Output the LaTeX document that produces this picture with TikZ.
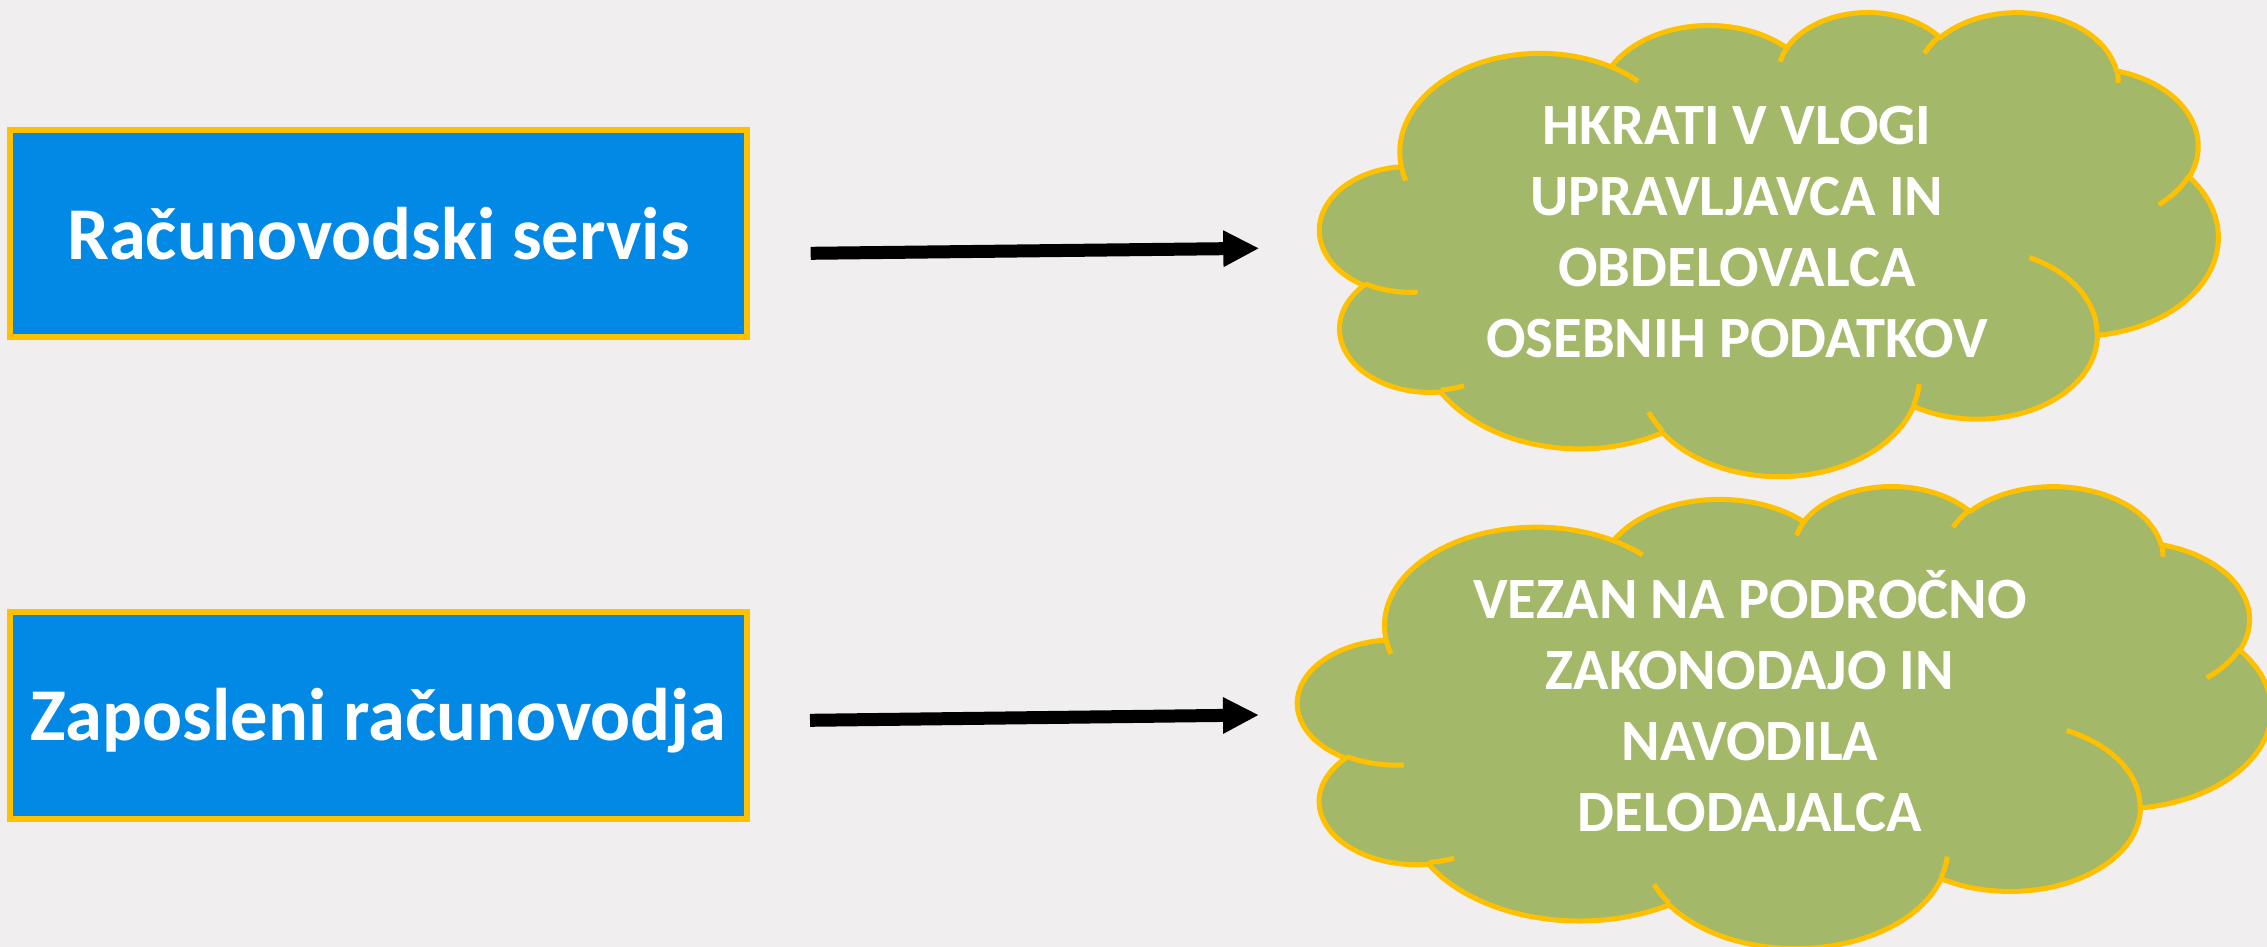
\documentclass[tikz,border=0pt]{standalone}
\usepackage{fontspec}
\setmainfont{Carlito}
\usetikzlibrary{arrows.meta}
\definecolor{bg}{RGB}{240,238,239}
\definecolor{boxblue}{RGB}{2,137,230}
\definecolor{gold}{RGB}{255,192,0}
\definecolor{cloudgreen}{RGB}{164,184,106}
% elliptical arc with OOXML (visual) angles
\newcommand\ooarc[4]{arc[x radius=#1pt, y radius=#2pt, start angle={atan2(#1*sin(#3),#2*cos(#3))}, delta angle={mod(atan2(#1*sin(#3+#4),#2*cos(#3+#4))-atan2(#1*sin(#3),#2*cos(#3))+720,360)}]}
\newcommand\cloudmain{(39,143.7) \ooarc{67.53}{91.90}{-190.4875}{123.7805} \ooarc{53.33}{72.67}{-144.1024}{89.9452} \ooarc{43.65}{59.45}{-145.8079}{99.7230} \ooarc{48.57}{65.95}{-130.9861}{117.2417} \ooarc{53.33}{72.73}{-78.7089}{109.0269} \ooarc{67.75}{92.20}{-46.2673}{130.2690} \ooarc{57.85}{78.67}{0.6250}{114.0333} \ooarc{67.52}{92.15}{22.4516}{115.1726} \ooarc{77.20}{105.43}{66.2426}{75.7110} \ooarc{43.60}{59.18}{-274.9421}{146.7356} \ooarc{43.45}{59.45}{-246.8285}{152.5189} -- cycle}
\newcommand\cloudinner{(46.93,261.77) \ooarc{43.45}{59.45}{86.742}{26.4295} (69.28,348.99) \ooarc{43.60}{59.18}{73.6105}{11.4475} (164.78,390.90) \ooarc{67.52}{92.15}{137.6242}{14.0811} (288.27,347.51) \ooarc{67.52}{92.15}{6.4533}{15.9984} (341.29,229.54) \ooarc{57.85}{78.67}{-70.2924}{70.9174} (417.98,153.54) \ooarc{53.33}{72.73}{30.3180}{27.7515} (383.24,54.26) \ooarc{48.57}{65.95}{-13.7443}{14.8589} (290.78,39.52) \ooarc{48.57}{65.95}{-149.1815}{18.1954} (221.41,47.20) \ooarc{43.65}{59.45}{-163.4943}{17.6864} (140.00,51.92) \ooarc{67.53}{91.90}{-66.7070}{12.3194} (41.27,157.89) \ooarc{67.53}{91.90}{157.6544}{11.8582}}
\begin{document}
\begin{tikzpicture}[x=1pt,y=1pt,yscale=-1,
  boxstyle/.style={draw=gold, line width=6pt, fill=boxblue, text=white, font=\bfseries\fontsize{74.5}{89}\selectfont, inner sep=0pt, minimum width=737pt, minimum height=207pt, text height=51pt, text depth=0pt},
  cloudfill/.style={draw=gold, line width=5pt, fill=cloudgreen, line join=round},
  cloudedge/.style={draw=gold, line width=5pt},
  cloudtext/.style={text=white, font=\bfseries\fontsize{58.5}{71}\selectfont, align=center, inner sep=0pt},
  arrowline/.style={line width=13pt, -{Triangle[length=36pt,width=34pt]}}]
\useasboundingbox (0,0) rectangle (2267,947);
\clip (0,0) rectangle (2267,947);
\fill[bg] (0,0) rectangle (2267,947);
\node[boxstyle] (b1) at (378.5,233.5) {Računovodski servis};
\node[boxstyle] (b2) at (378.5,715) {Zaposleni računovodja};
\begin{scope}[shift={(1320,11)}, xscale={898/432}, yscale={464/432}]
\filldraw[cloudfill] \cloudmain;
\draw[cloudedge] \cloudinner;
\end{scope}
\begin{scope}[shift={(1298,485)}, xscale={973/432}, yscale={462/432}]
\filldraw[cloudfill] \cloudmain;
\draw[cloudedge] \cloudinner;
\end{scope}
\node[cloudtext] (c1) at (1737,232) {HKRATI V VLOGI\\UPRAVLJAVCA IN\\OBDELOVALCA\\OSEBNIH PODATKOV};
\node[cloudtext] (c2) at (1750,701) {VEZAN NA PODROČNO\\ZAKONODAJO IN\\NAVODILA\\DELODAJALCA};
\coordinate (s1) at (810.7,253.3);
\coordinate (e1) at (1259.3,248.3);
\coordinate (s2) at (810,720.3);
\coordinate (e2) at (1259,715);
\draw[arrowline] (s1) -- (e1);
\draw[arrowline] (s2) -- (e2);
\end{tikzpicture}
\end{document}
